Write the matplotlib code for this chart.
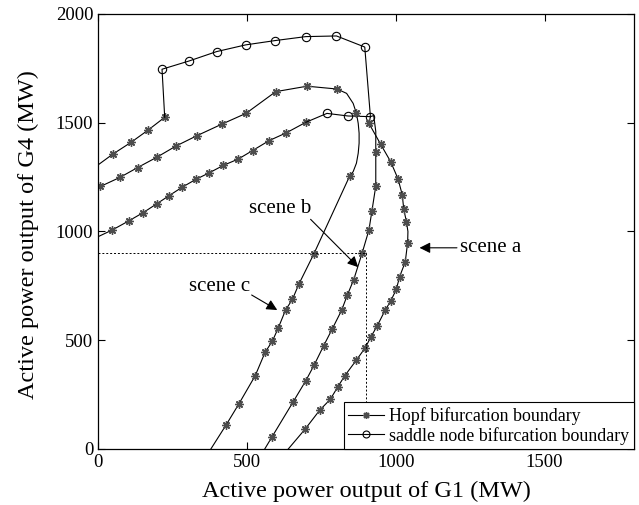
import matplotlib
matplotlib.use("Agg")
import matplotlib.pyplot as plt

plt.rcParams['font.family'] = ['Liberation Serif', 'DejaVu Serif']

# scene a: Hopf boundary (left branch, right branch) and saddle node part
hopf_a_left_x = [0, 48, 105, 152, 197, 239, 282, 329, 374, 421, 471, 519, 575, 633, 698]
hopf_a_left_y = [976, 1007, 1050, 1087, 1127, 1165, 1203, 1240, 1270, 1304, 1333, 1372, 1418, 1454, 1502]
saddle_a_x = [698, 769, 840, 915]
saddle_a_y = [1502, 1543, 1531, 1528]
hopf_a_right_x = [915, 910, 949, 983, 1008, 1022, 1027, 1036, 1041, 1040, 1032, 1013, 1002, 983,
                  964, 937, 916, 898, 868, 829, 806, 780, 745, 696, 639]
hopf_a_right_y = [1528, 1497, 1402, 1321, 1241, 1168, 1102, 1045, 1000, 949, 860, 792, 734, 680,
                  637, 564, 514, 466, 409, 337, 287, 228, 179, 92, 0]

# scene b
hopf_b_left_x = [0, 49, 111, 169, 224]
hopf_b_left_y = [1306, 1355, 1410, 1467, 1525]
saddle_b_x = [224, 215, 306, 398, 496, 596, 698, 801, 896, 915]
saddle_b_y = [1525, 1746, 1784, 1827, 1858, 1878, 1896, 1899, 1848, 1528]
hopf_b_right_x = [915, 926, 933, 933, 933, 920, 910, 887, 859, 837, 818, 786, 758, 726, 698, 656, 585, 560]
hopf_b_right_y = [1528, 1533, 1460, 1364, 1209, 1094, 1007, 900, 779, 706, 637, 550, 475, 386, 314, 218, 57, 0]

# scene c
hopf_c_x = [8, 74, 133, 197, 262, 333, 415, 497, 597, 702, 803, 835, 857, 868, 874, 877, 877, 874,
            868, 857, 846, 725, 675, 653, 630, 605, 586, 561, 528, 473, 430, 379]
hopf_c_y = [1207, 1249, 1294, 1341, 1393, 1441, 1493, 1543, 1643, 1668, 1655, 1635, 1589, 1543, 1497,
            1452, 1406, 1360, 1314, 1275, 1257, 897, 759, 688, 639, 555, 497, 444, 337, 207, 110, 0]

# operating point marked by the dashed lines
op_x = 900
op_y = 900

star = (8, 2, 0)
hopf_style = dict(color='k', lw=0.8, marker=star, ms=6, mec='0.3', mew=1.0)
saddle_style = dict(color='k', lw=0.8, marker='o', ms=6, mfc='none', mec='k', mew=0.8)

fig = plt.figure(figsize=(6.39, 5.05), dpi=100)
ax = fig.add_axes([0.1534, 0.1109, 0.8386, 0.8614])

ax.plot(hopf_a_left_x, hopf_a_left_y, markevery=list(range(1, 15)), **hopf_style)
ax.plot(saddle_a_x, saddle_a_y, markevery=[1, 2, 3], **saddle_style)
ax.plot(hopf_a_right_x, hopf_a_right_y,
        markevery=list(range(1, 8)) + list(range(9, 24)), **hopf_style)

ax.plot(hopf_b_left_x, hopf_b_left_y, markevery=[1, 2, 3, 4], **hopf_style)
ax.plot(saddle_b_x, saddle_b_y, markevery=list(range(1, 9)), **saddle_style)
ax.plot(hopf_b_right_x, hopf_b_right_y, markevery=list(range(3, 17)), **hopf_style)

ax.plot(hopf_c_x, hopf_c_y,
        markevery=list(range(0, 11)) + [13] + list(range(20, 31)), **hopf_style)

ax.plot([0, op_x], [op_y, op_y], color='k', lw=0.7, ls=(0, (2, 2)))
ax.plot([op_x, op_x], [op_y, 0], color='k', lw=0.7, ls=(0, (2, 2)))

# legend handles
h1, = ax.plot([], [], label='Hopf bifurcation boundary', **hopf_style)
h2, = ax.plot([], [], label='saddle node bifurcation boundary', **saddle_style)
h1.set_markersize(5)
h2.set_markersize(5)

arrow = dict(arrowstyle='-|>', color='k', lw=0.8, mutation_scale=16, shrinkA=0, shrinkB=0)
ax.annotate('scene a', xy=(1080, 925), xytext=(1215, 925), fontsize=15,
            va='center', ha='left', arrowprops=arrow)
ax.annotate('', xy=(874, 836), xytext=(714, 1056), arrowprops=arrow)
ax.text(611, 1108, 'scene b', fontsize=15, ha='center', va='center')
ax.annotate('', xy=(602, 639), xytext=(516, 708), arrowprops=arrow)
ax.text(409, 749, 'scene c', fontsize=15, ha='center', va='center')

ax.set_xlim(0, 1800)
ax.set_ylim(0, 2000)
ax.set_xticks([0, 500, 1000, 1500])
ax.set_yticks([0, 500, 1000, 1500, 2000])
ax.tick_params(direction='in', top=True, right=True, labelsize=13.5, length=5, width=0.8)
for s in ax.spines.values():
    s.set_linewidth(0.9)

ax.set_xlabel('Active power output of G1 (MW)', fontsize=17.5)
ax.set_ylabel('Active power output of G4 (MW)', fontsize=17.5)
ax.xaxis.set_label_coords(0.5, -0.072)
ax.yaxis.set_label_coords(-0.11, 0.493)

leg = ax.legend(handles=[h1, h2], loc='lower right', bbox_to_anchor=(1, 0), borderaxespad=0,
                fontsize=12.9, fancybox=False, framealpha=1, edgecolor='k',
                handlelength=2.0, handletextpad=0.3, borderpad=0.25, labelspacing=0.1)
leg.get_frame().set_linewidth(0.8)

fig.savefig('out.png', dpi=100)
